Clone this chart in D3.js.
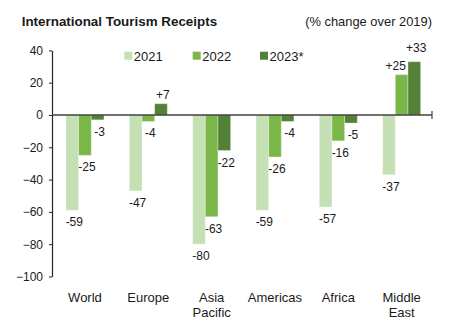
<!DOCTYPE html>
<html>
<head>
<meta charset="utf-8">
<script src="https://cdn.jsdelivr.net/npm/d3@7/dist/d3.min.js"></script>
<style>
  html, body { margin: 0; padding: 0; background: #fff; }
  svg { display: block; font-family: "Liberation Sans", Arial, sans-serif; }
</style>
</head>
<body>
<svg id="chart" width="458" height="328"></svg>
<script>
// Regions (category labels may wrap onto two lines)
const regions = ["World", "Europe", "Asia Pacific", "Americas", "Africa", "Middle East"];
const regionLines = [["World"], ["Europe"], ["Asia", "Pacific"], ["Americas"], ["Africa"], ["Middle", "East"]];
const seriesNames = ["2021", "2022", "2023*"];
// % change over 2019
const values2021 = [-59, -47, -80, -59, -57, -37];
const values2022 = [-25, -4, -63, -26, -16, 25];
const values2023 = [-3, 7, -22, -4, -5, 33];
const yTicks = [40, 20, 0, -20, -40, -60, -80, -100];
const seriesColors = ["#c5e0b4", "#7ab648", "#538135"];

const allSeries = [values2021, values2022, values2023];
const svg = d3.select("#chart");

const axisX = 52, zeroEnd = 432;
const y = d3.scaleLinear().domain([-100, 40]).range([276.5, 50.4]);
const x0 = d3.scaleBand().domain(regions).range([53.3, 433.3]).paddingInner(0.4).paddingOuter(0.2);
const x1 = d3.scaleBand().domain(seriesNames).range([0, x0.bandwidth()]);

// Title and unit note
svg.append("text").attr("x", 21.7).attr("y", 26)
  .attr("font-size", 13.4).attr("font-weight", "bold").attr("fill", "#1a1a1a")
  .text("International Tourism Receipts");
svg.append("text").attr("x", 432).attr("y", 26).attr("text-anchor", "end")
  .attr("font-size", 12.9).attr("fill", "#1a1a1a")
  .text("(% change over 2019)");

// Bars
const rows = [];
regions.forEach((r, i) => seriesNames.forEach((s, j) => rows.push({ region: r, i, series: s, j, value: allSeries[j][i] })));

svg.append("g").selectAll("rect").data(rows).join("rect")
  .attr("x", d => x0(d.region) + x1(d.series))
  .attr("width", x1.bandwidth())
  .attr("y", d => y(Math.max(0, d.value)))
  .attr("height", d => Math.abs(y(d.value) - y(0)))
  .attr("fill", d => seriesColors[d.j])
  .attr("stroke", "rgba(255,255,255,0.35)")
  .attr("stroke-width", 1);

// Value label placement: below negative bars, above positive ones.
// A positive label next to a taller positive bar is right-aligned to its own bar,
// and the taller neighbour's label is lifted so the two do not collide.
rows.forEach(d => {
  const left = x0(d.region) + x1(d.series);
  const next = d.j < 2 ? allSeries[d.j + 1][d.i] : null;
  d.anchor = "middle";
  d.lx = left + x1.bandwidth() / 2 + 2;
  if (d.value < 0) {
    d.ly = y(d.value) + 16;
  } else {
    d.ly = y(d.value) - 5;
    if (next !== null && next > d.value) {
      d.anchor = "end";
      d.lx = left + x1.bandwidth() - 2;
    }
  }
});
rows.forEach(d => {
  if (d.value > 0 && d.j > 0) {
    const prev = rows.find(p => p.i === d.i && p.j === d.j - 1);
    if (prev.value > 0 && prev.ly - d.ly < 18) d.ly = prev.ly - 18;
  }
});

const fmt = v => (v > 0 ? "+" : "") + v;
svg.append("g").selectAll("text").data(rows).join("text")
  .attr("x", d => d.lx)
  .attr("y", d => d.ly)
  .attr("text-anchor", d => d.anchor)
  .attr("font-size", 12).attr("fill", "#1a1a1a")
  .text(d => fmt(d.value));

// Left axis
const yAxis = svg.append("g").attr("transform", `translate(${axisX},0)`)
  .call(d3.axisLeft(y).tickValues(yTicks).tickSize(3).tickPadding(6).tickSizeOuter(0));
yAxis.select(".domain").attr("stroke", "#262626").attr("stroke-width", 1.2);
yAxis.selectAll(".tick line").attr("stroke", "#262626");
yAxis.selectAll(".tick text").attr("font-size", 12).attr("fill", "#1a1a1a")
  .attr("font-family", "Liberation Sans, Arial, sans-serif");

// Zero line with end tick
svg.append("line").attr("x1", axisX).attr("x2", zeroEnd).attr("y1", y(0)).attr("y2", y(0))
  .attr("stroke", "#404040").attr("stroke-width", 1.3);
svg.append("line").attr("x1", zeroEnd).attr("x2", zeroEnd).attr("y1", y(0) - 4).attr("y2", y(0) + 4)
  .attr("stroke", "#404040").attr("stroke-width", 1.2);

// Category labels
const cat = svg.append("g").selectAll("text").data(regions).join("text")
  .attr("x", d => x0(d) + x0.bandwidth() / 2)
  .attr("y", 302)
  .attr("text-anchor", "middle").attr("font-size", 13).attr("fill", "#1a1a1a");
cat.selectAll("tspan").data((d, i) => regionLines[i]).join("tspan")
  .attr("x", function () { return d3.select(this.parentNode).attr("x"); })
  .attr("dy", (d, k) => k === 0 ? 0 : 14.7)
  .text(d => d);

// Legend
const legendX = [124.3, 192.7, 260];
const legend = svg.append("g").selectAll("g").data(seriesNames).join("g")
  .attr("transform", (d, i) => `translate(${legendX[i]},0)`);
legend.append("rect").attr("x", 0).attr("y", 51.7).attr("width", 8).attr("height", 8)
  .attr("fill", (d, i) => seriesColors[i]);
legend.append("text").attr("x", 9.5).attr("y", 60.5).attr("font-size", 13).attr("fill", "#1a1a1a")
  .text(d => d);
</script>
</body>
</html>
